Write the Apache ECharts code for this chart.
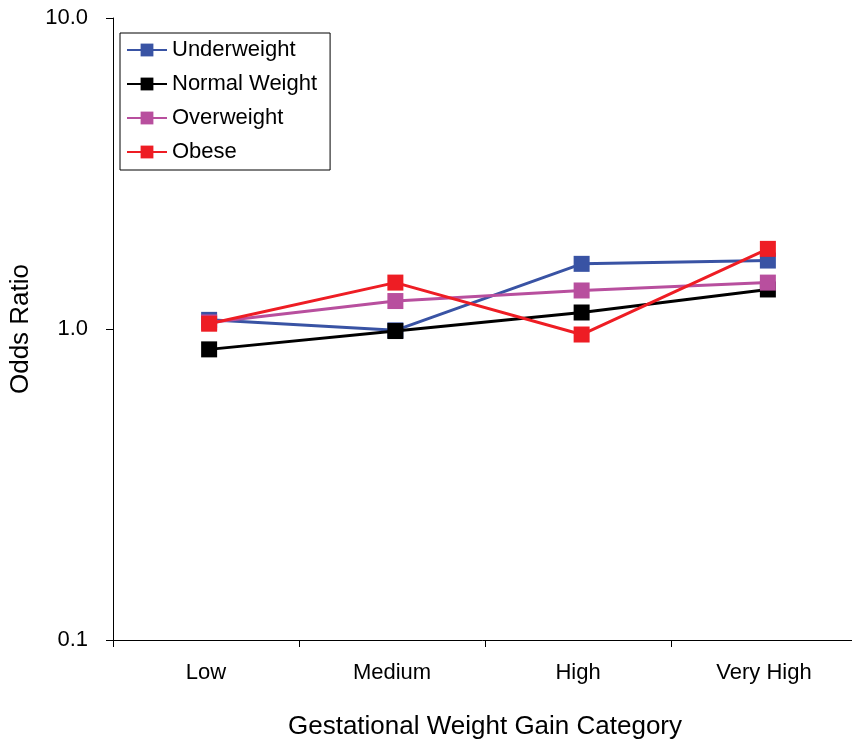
<!DOCTYPE html>
<html><head><meta charset="utf-8">
<script src="https://cdn.jsdelivr.net/npm/echarts@6/dist/echarts.min.js"></script>
<style>html,body{margin:0;padding:0;background:#fff}#c{width:852px;height:742px}</style>
</head><body><div id="c"></div>
<script>
const categories = ['Low', 'Medium', 'High', 'Very High'];
const underweight = [1.07, 0.99, 1.62, 1.66];
const normalWeight = [0.86, 0.985, 1.13, 1.34];
const overweight = [1.05, 1.23, 1.33, 1.41];
const obese = [1.04, 1.41, 0.96, 1.81];
const seriesNames = ['Underweight', 'Normal Weight', 'Overweight', 'Obese'];
const seriesColors = ['#3953A4', '#000000', '#B84F9E', '#EE1D24'];
const seriesData = [underweight, normalWeight, overweight, obese];

const font = 'Liberation Sans, Arial, sans-serif';
const chart = echarts.init(document.getElementById('c'));
const yBase = { type: 'log', logBase: 10, min: 0.1, max: 10 };
chart.setOption({
  animation: false,
  backgroundColor: '#fff',
  grid: [
    { left: 113, top: 18, bottom: 102, right: -5, containLabel: false, outerBoundsMode: 'none' },
    { left: 116, top: 18, bottom: 102, right: -9, containLabel: false, outerBoundsMode: 'none' }
  ],
  legend: {
    orient: 'vertical', left: 120, top: 33,
    borderColor: '#000', borderWidth: 1, backgroundColor: '#fff',
    padding: [6, 13, 7, 6],
    itemWidth: 40, itemHeight: 16, itemGap: 12,
    textStyle: { fontFamily: font, fontSize: 22, color: '#000' },
    data: seriesNames
  },
  xAxis: [{
    gridIndex: 0, type: 'category', data: categories, boundaryGap: true,
    name: 'Gestational Weight Gain Category', nameLocation: 'middle', nameGap: 74,
    nameTextStyle: { fontFamily: font, fontSize: 26, color: '#000' },
    axisLine: { lineStyle: { color: '#000', width: 1 } },
    axisTick: { show: true, length: 7, inside: false, lineStyle: { color: '#000' } },
    axisLabel: { fontFamily: font, fontSize: 22, color: '#000', margin: 22 },
    splitLine: { show: false }
  }, {
    gridIndex: 1, type: 'category', data: categories, boundaryGap: true, show: false
  }],
  yAxis: [Object.assign({}, yBase, {
    gridIndex: 0,
    name: 'Odds Ratio', nameLocation: 'middle', nameGap: 78,
    nameTextStyle: { fontFamily: font, fontSize: 26, color: '#000' },
    axisLine: { show: true, lineStyle: { color: '#000', width: 1 } },
    axisTick: { show: true, length: 7, lineStyle: { color: '#000' } },
    minorTick: { show: false },
    axisLabel: { fontFamily: font, fontSize: 22, color: '#000', margin: 25,
      formatter: v => Number(v).toFixed(1) },
    splitLine: { show: false }
  }), Object.assign({}, yBase, { gridIndex: 1, show: false, splitLine: { show: false } })],
  series: seriesNames.map((n, i) => ({
    name: n, type: 'line', data: seriesData[i],
    xAxisIndex: 1, yAxisIndex: 1,
    symbol: 'rect', symbolSize: 16,
    itemStyle: { color: seriesColors[i] },
    lineStyle: { color: seriesColors[i], width: 3 },
    z: 2 + i
  }))
});
</script></body></html>
